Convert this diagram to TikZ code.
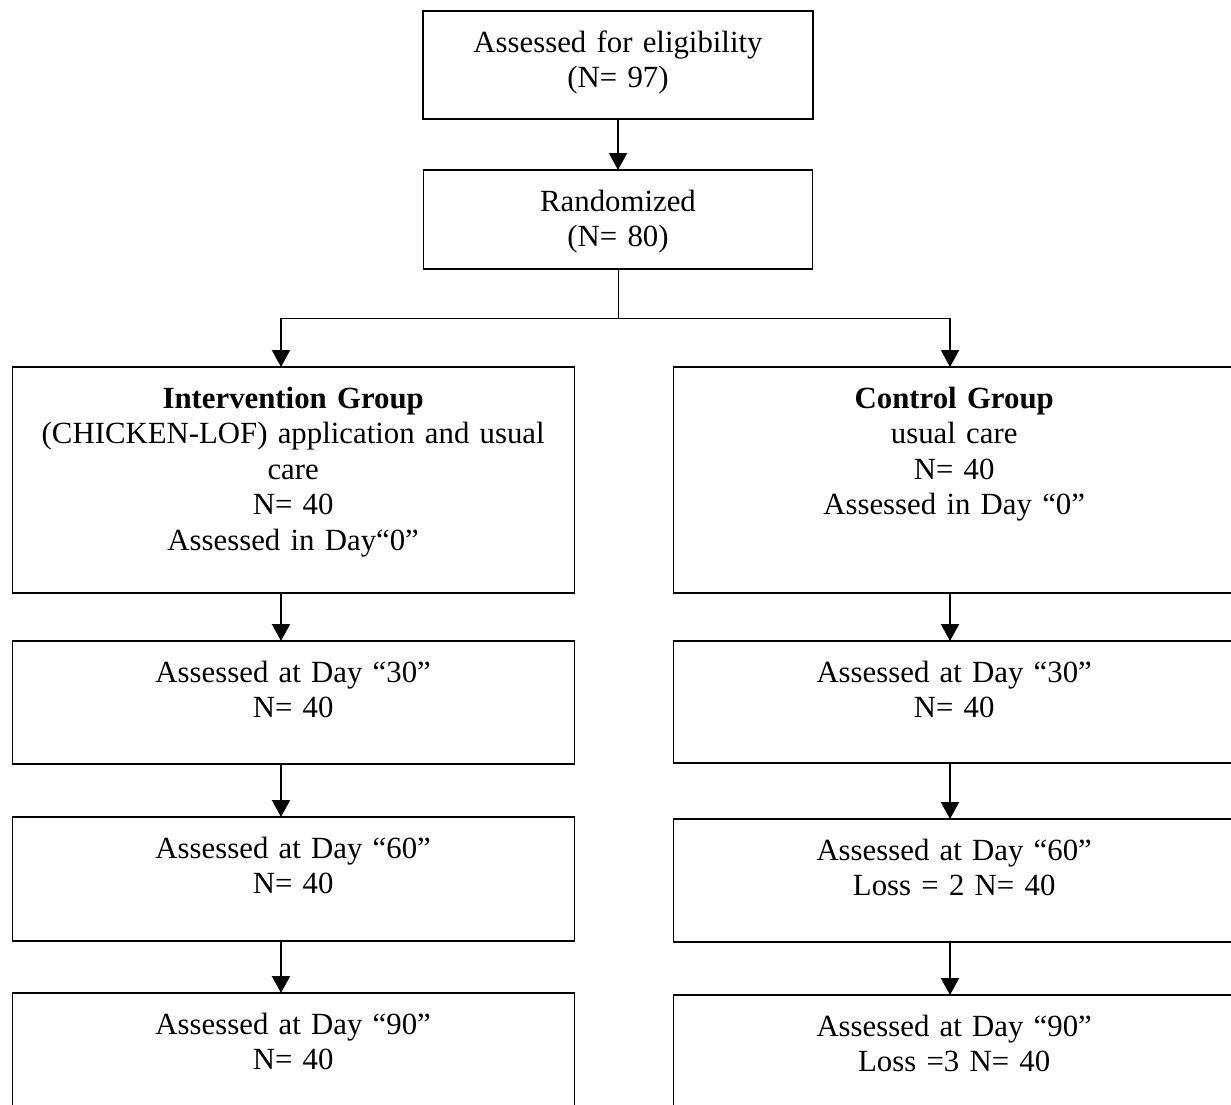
\documentclass[tikz,border=0pt]{standalone}
\usepackage{fontspec}
\setmainfont{Liberation Serif}
\usetikzlibrary{positioning, arrows.meta}

\begin{document}
\begin{tikzpicture}[node distance = 24pt,
BoxStyle/.style={draw, line width=0.6pt, inner sep=0pt, outer sep=0pt,
                align=center, text width=#1, text height=20.5pt,
                font=\fontsize{15.4pt}{17.75pt}\selectfont},
ArrStyle/.style={-{Triangle[length=8.5pt, width=9pt]}, line width=1.1pt},]
\useasboundingbox (0,0) rectangle (615.5pt,-552pt);
\clip (0,0) rectangle (615.5pt,-552pt);
\node [BoxStyle=195pt, text depth=33.5pt, anchor=north] (elig) at (309pt,-5.5pt)
      {Assessed for eligibility\\(N= 97)};
\node [BoxStyle=194.5pt, text depth=29pt, below=25.5pt of elig] (rand)
      {Randomized\\(N= 80)};
% two groups
\node [BoxStyle=281pt, text depth=92.5pt, below=49pt of rand, xshift=-162.4pt] (iv0)
      {\textbf{Intervention Group}\\(CHICKEN-LOF) application and usual\\care\\N= 40\\Assessed in Day“0”};
\node [BoxStyle=281pt, text depth=92.5pt, below=49pt of rand, xshift=168.1pt] (ct0)
      {\textbf{Control Group}\\usual care\\N= 40\\Assessed in Day “0”};
% follow-up, intervention
\node [BoxStyle=281pt, text depth=41pt, below=24pt of iv0] (iv30)
      {Assessed at Day “30”\\N= 40};
\node [BoxStyle=281pt, text depth=41.5pt, below=26.5pt of iv30] (iv60)
      {Assessed at Day “60”\\N= 40};
\node [BoxStyle=281pt, text depth=41pt, below=26pt of iv60] (iv90)
      {Assessed at Day “90”\\N= 40};
% follow-up, control
\node [BoxStyle=281pt, text depth=40.5pt, below=24pt of ct0] (ct30)
      {Assessed at Day “30”\\N= 40};
\node [BoxStyle=281pt, text depth=41pt, below=28pt of ct30] (ct60)
      {Assessed at Day “60”\\Loss = 2 N= 40};
\node [BoxStyle=281pt, text depth=41pt, below=26.5pt of ct60] (ct90)
      {Assessed at Day “90”\\Loss =3 N= 40};
% connectors
\coordinate [below=24.5pt of rand] (split);
\coordinate [left=168.5pt of split] (jL);
\coordinate [right=166pt of split] (jR);
\draw [ArrStyle] (elig) -- (rand);
\draw [line width=0.5pt] (rand) -- (split);
\draw [line width=0.5pt] (jL) -- (jR);
\draw [ArrStyle] (jL) -- (jL |- iv0.north);
\draw [ArrStyle] (jR) -- (jR |- ct0.north);
\draw [ArrStyle] (iv0.south -| jL) -- (iv30.north -| jL);
\draw [ArrStyle] (iv30.south -| jL) -- (iv60.north -| jL);
\draw [ArrStyle] (iv60.south -| jL) -- (iv90.north -| jL);
\draw [ArrStyle] (ct0.south -| jR) -- (ct30.north -| jR);
\draw [ArrStyle] (ct30.south -| jR) -- (ct60.north -| jR);
\draw [ArrStyle] (ct60.south -| jR) -- (ct90.north -| jR);
\end{tikzpicture}
\end{document}
